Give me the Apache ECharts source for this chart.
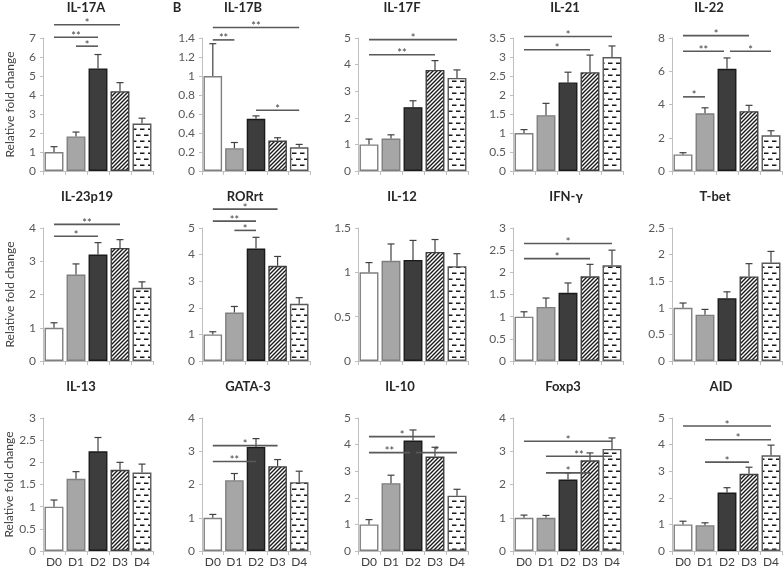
<!DOCTYPE html>
<html><head><meta charset="utf-8">
<script src="https://cdn.jsdelivr.net/npm/echarts@6/dist/echarts.min.js"></script>
<style>html,body{margin:0;padding:0;background:#fff}#c{width:784px;height:568px}</style>
</head><body><div id="c"></div>
<script>
// ---------- DATA ----------
const categories = ['D0','D1','D2','D3','D4'];
const panelNames = ['IL-17A','IL-17B','IL-17F','IL-21','IL-22',
                    'IL-23p19','RORrt','IL-12','IFN-γ','T-bet',
                    'IL-13','GATA-3','IL-10','Foxp3','AID'];
const yMax  = [7,1.4,5,3.5,8, 4,5,1.5,3,2.5, 3,4,5,4,5];
const yStep = [1,0.2,1,0.5,2, 1,1,0.5,0.5,0.5, 0.5,1,1,1,1];

const IL17A_mean = [1.0,1.82,5.4,4.2,2.5];    const IL17A_sem = [0.28,0.23,0.73,0.45,0.28];
const IL17B_mean = [1.0,0.24,0.55,0.32,0.25]; const IL17B_sem = [0.34,0.06,0.03,0.03,0.03];
const IL17F_mean = [1.0,1.22,2.4,3.8,3.5];    const IL17F_sem = [0.2,0.14,0.24,0.35,0.3];
const IL21_mean  = [1.0,1.47,2.33,2.6,3.0];   const IL21_sem  = [0.09,0.31,0.27,0.45,0.29];
const IL22_mean  = [1.0,3.47,6.15,3.6,2.15];  const IL22_sem  = [0.1,0.33,0.65,0.35,0.27];
const IL23_mean  = [1.0,2.6,3.2,3.4,2.2];     const IL23_sem  = [0.15,0.32,0.36,0.25,0.18];
const RORrt_mean = [1.0,1.82,4.23,3.58,2.15]; const RORrt_sem = [0.1,0.23,0.42,0.35,0.23];
const IL12_mean  = [1.0,1.13,1.14,1.23,1.07]; const IL12_sem  = [0.11,0.19,0.22,0.14,0.14];
const IFNg_mean  = [1.0,1.22,1.54,1.91,2.16]; const IFNg_sem  = [0.11,0.2,0.22,0.27,0.34];
const Tbet_mean  = [1.0,0.87,1.18,1.59,1.85]; const Tbet_sem  = [0.09,0.1,0.12,0.24,0.21];
const IL13_mean  = [1.0,1.63,2.25,1.83,1.77]; const IL13_sem  = [0.15,0.16,0.31,0.17,0.19];
const GATA3_mean = [1.0,2.13,3.13,2.55,2.07]; const GATA3_sem = [0.1,0.2,0.25,0.2,0.33];
const IL10_mean  = [1.0,2.55,4.15,3.55,2.08]; const IL10_sem  = [0.18,0.3,0.4,0.35,0.24];
const Foxp3_mean = [1.0,1.0,2.15,2.73,3.07];  const Foxp3_sem = [0.08,0.07,0.2,0.22,0.33];
const AID_mean   = [1.0,0.97,2.2,2.9,3.6];    const AID_sem   = [0.12,0.09,0.18,0.25,0.38];

// significance brackets: [from, to, level, label]
const IL17A_sig = [[0,3,7.7,'*'],[0,2,7.04,'**'],[1,2,6.57,'*']];
const IL17B_sig = [[0,4,1.51,'**'],[0,1,1.38,'**'],[2,4,0.64,'*']];
const IL17F_sig = [[0,4,4.94,'*'],[0,3,4.37,'**']];
const IL21_sig  = [[0,4,3.54,'*'],[0,3,3.19,'*']];
const IL22_sig  = [[0,3,8.14,'*'],[0,2,7.2,'**'],[2,4,7.2,'*'],[0,1,4.46,'*']];
const IL23_sig  = [[0,3,4.11,'**'],[0,2,3.75,'*']];
const RORrt_sig = [[0,3,5.71,'*'],[0,2,5.26,'**'],[1,2,4.91,'*']];
const IL12_sig  = [];
const IFNg_sig  = [[0,4,2.65,'*'],[0,3,2.31,'*']];
const Tbet_sig  = [];
const IL13_sig  = [];
const GATA3_sig = [[0,3,3.17,'*'],[0,2,2.69,'**']];
const IL10_sig  = [[0,3,4.3,'*'],[0,2,3.7,'**'],[2,4,3.7,'*']];
const Foxp3_sig = [[0,4,3.3,'*'],[1,4,2.85,'**'],[1,3,2.35,'*']];
const AID_sig   = [[0,4,4.7,'*'],[1,4,4.18,'*'],[1,3,3.34,'*']];

const means = [IL17A_mean,IL17B_mean,IL17F_mean,IL21_mean,IL22_mean,IL23_mean,RORrt_mean,IL12_mean,IFNg_mean,Tbet_mean,IL13_mean,GATA3_mean,IL10_mean,Foxp3_mean,AID_mean];
const sems  = [IL17A_sem,IL17B_sem,IL17F_sem,IL21_sem,IL22_sem,IL23_sem,RORrt_sem,IL12_sem,IFNg_sem,Tbet_sem,IL13_sem,GATA3_sem,IL10_sem,Foxp3_sem,AID_sem];
const sigs  = [IL17A_sig,IL17B_sig,IL17F_sig,IL21_sig,IL22_sig,IL23_sig,RORrt_sig,IL12_sig,IFNg_sig,Tbet_sig,IL13_sig,GATA3_sig,IL10_sig,Foxp3_sig,AID_sig];

// ---------- LAYOUT / STYLE ----------
const colLeft  = [43, 202, 358, 513, 672];
const colWidth = [110, 108, 110, 110, 110];
const rowTop   = [38, 228, 418];
const rowH     = [133, 133, 135];
const titleX   = [[86,243,402,565,709],[87,245,402,566,715],[81,248,400,563,721]];
const titleY   = [1, 190, 380];
const FONT = 'Lato, "Open Sans", sans-serif';

function stripes(){
  const c=document.createElement('canvas'); c.width=4; c.height=4;
  const g=c.getContext('2d'); g.fillStyle='#fff'; g.fillRect(0,0,4,4);
  g.strokeStyle='#1a1a1a'; g.lineWidth=1.4; g.beginPath();
  g.moveTo(-1,5); g.lineTo(5,-1); g.moveTo(-1,1); g.lineTo(1,-1); g.moveTo(3,5); g.lineTo(5,3); g.stroke();
  return c;
}
function dashes(){
  const c=document.createElement('canvas'); c.width=8; c.height=12;
  const g=c.getContext('2d'); g.fillStyle='#fff'; g.fillRect(0,0,8,12);
  g.fillStyle='#1a1a1a';
  g.fillRect(0,2.5,4.5,1.5); g.fillRect(4,8.5,4.5,1.5); g.fillRect(-4,8.5,4.5,1.5);
  return c;
}
const barStyles = [
  {color:'#ffffff', borderColor:'#7f7f7f', borderWidth:1.4},
  {color:'#a6a6a6', borderColor:'#7f7f7f', borderWidth:1.4},
  {color:'#3d3d3d', borderColor:'#1a1a1a', borderWidth:1.4},
  {color:{image:stripes(), repeat:'repeat'}, borderColor:'#404040', borderWidth:1.4},
  {color:{image:dashes(), repeat:'repeat'}, borderColor:'#595959', borderWidth:1.4}
];

const grids=[], xAxes=[], yAxes=[], series=[], graphics=[];
for (let p=0;p<15;p++){
  const r=Math.floor(p/5), c=p%5;
  grids.push({left:colLeft[c], top:rowTop[r], width:colWidth[c], height:rowH[r]});
  xAxes.push({gridIndex:p, type:'category', data:categories,
    axisLine:{lineStyle:{color:'#bfbfbf', width:1}},
    axisTick:{show:true, length:4, lineStyle:{color:'#bfbfbf'}},
    axisLabel:{show:r===2, color:'#404040', fontSize:12, fontFamily:FONT, margin:5}});
  yAxes.push({gridIndex:p, type:'value', min:0, max:yMax[p], interval:yStep[p],
    axisLine:{show:true, lineStyle:{color:'#bfbfbf', width:1}},
    axisTick:{show:true, length:3, lineStyle:{color:'#bfbfbf'}},
    splitLine:{show:false},
    axisLabel:{color:'#595959', fontSize:12, fontFamily:FONT, margin:7},
    name: c===0 ? 'Relative fold change' : '', nameLocation:'middle', nameGap:27,
    nameTextStyle:{color:'#404040', fontSize:12, fontFamily:FONT}});
  series.push({type:'bar', xAxisIndex:p, yAxisIndex:p, barCategoryGap:'14%', silent:true,
    data: means[p].map((v,i)=>({value:v, itemStyle:barStyles[i]}))});
  series.push({type:'custom', xAxisIndex:p, yAxisIndex:p, clip:false, z:5, silent:true,
    encode:{x:0,y:1},
    data: means[p].map((v,i)=>[i, v, v+sems[p][i]]),
    renderItem:(params, api)=>{
      const b=api.coord([api.value(0), api.value(1)]);
      const t=api.coord([api.value(0), api.value(2)]);
      const st={stroke:'#404040', lineWidth:1.2};
      return {type:'group', children:[
        {type:'line', shape:{x1:b[0],y1:b[1],x2:t[0],y2:t[1]}, style:st},
        {type:'line', shape:{x1:t[0]-3.5,y1:t[1],x2:t[0]+3.5,y2:t[1]}, style:st}]};
    }});
  if (sigs[p].length){
    const S=sigs[p];
    series.push({type:'custom', xAxisIndex:p, yAxisIndex:p, clip:false, z:6, silent:true,
      encode:{x:0,y:2},
      data: S.map(s=>[s[0], s[1], s[2]]),
      renderItem:(params, api)=>{
        const s=S[params.dataIndex];
        const a=api.coord([s[0], s[2]]), b=api.coord([s[1], s[2]]);
        let x1=a[0], x2=b[0];
        S.forEach((o,j)=>{ if(j!==params.dataIndex && o[2]===s[2]){ if(o[1]===s[0]) x1+=3; if(o[0]===s[1]) x2-=3; } });
        return {type:'group', children:[
          {type:'line', shape:{x1:x1,y1:a[1],x2:x2,y2:a[1]}, style:{stroke:'#595959', lineWidth:1.6}},
          {type:'text', x:(x1+x2)/2, y:a[1]-1, style:{text:s[3], textAlign:'center', textVerticalAlign:'middle', fill:'#404040', font:'11px '+FONT}}]};
      }});
  }
  graphics.push({type:'text', x:titleX[r][c], y:titleY[r], silent:true,
    style:{text:panelNames[p], textAlign:'center', textVerticalAlign:'top', fill:'#262626', font:'bold 13px '+FONT}});
}
graphics.push({type:'text', x:177, y:titleY[0], silent:true,
  style:{text:'B', textAlign:'center', textVerticalAlign:'top', fill:'#262626', font:'bold 13px '+FONT}});

const chart = echarts.init(document.getElementById('c'), null, {renderer:'canvas'});
chart.setOption({animation:false, backgroundColor:'#fff', grid:grids, xAxis:xAxes, yAxis:yAxes, series:series, graphic:graphics});
</script></body></html>
